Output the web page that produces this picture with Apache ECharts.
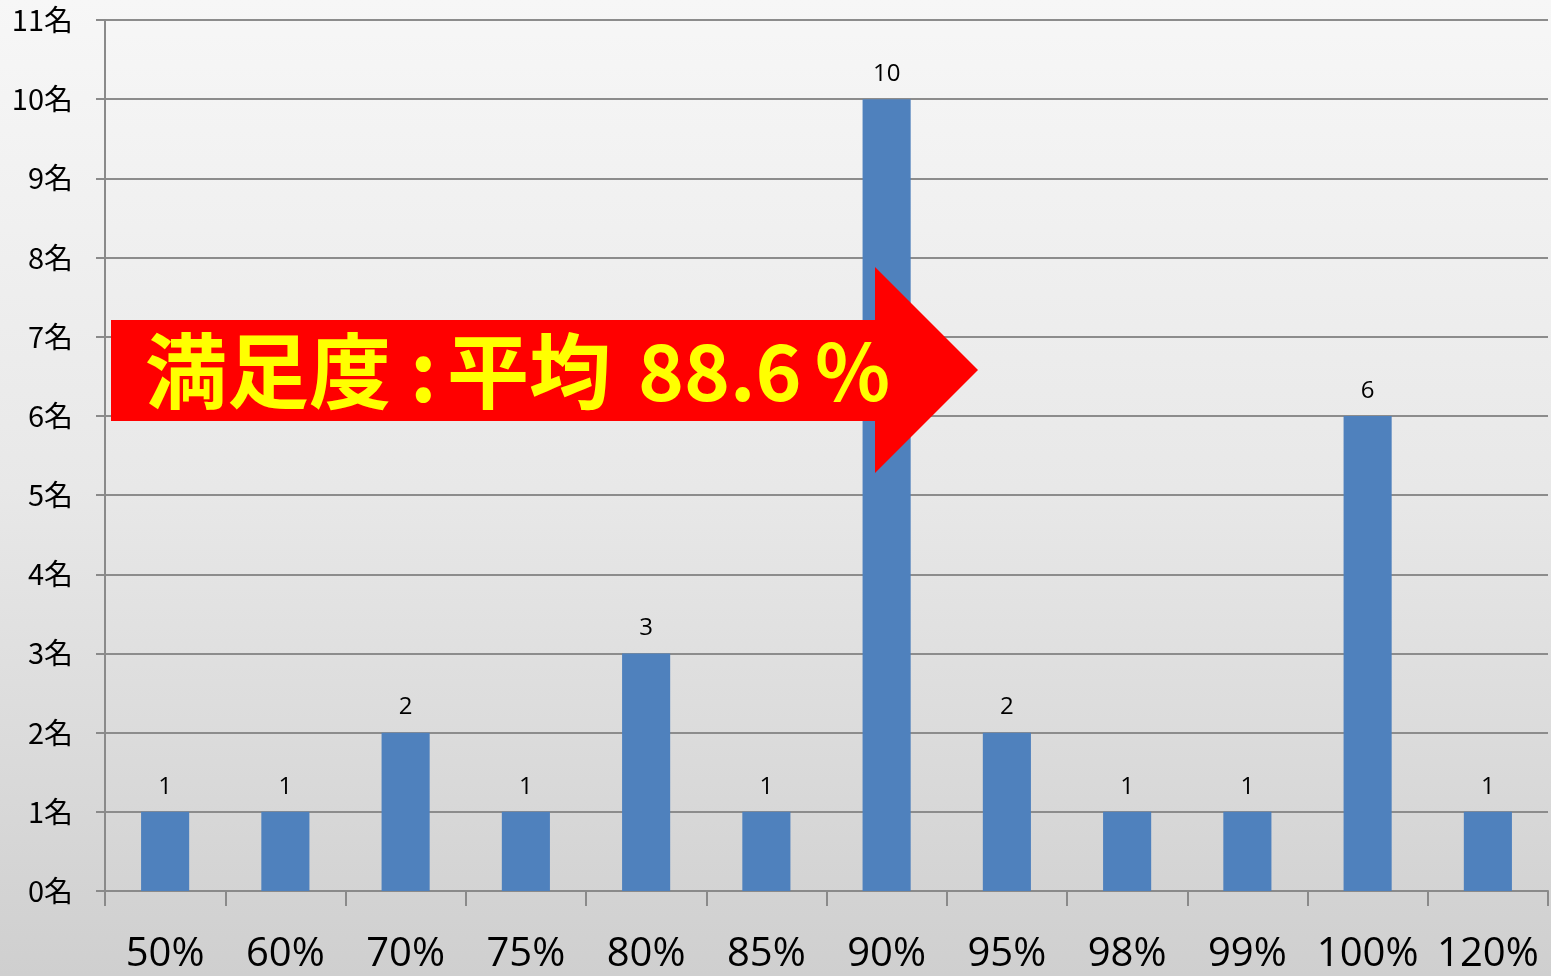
<!DOCTYPE html>
<html><head><meta charset="utf-8">
<script src="https://cdn.jsdelivr.net/npm/echarts@6/dist/echarts.min.js"></script>
<style>html,body{margin:0;padding:0;}#c{width:1551px;height:976px;}</style>
</head><body><div id="c"></div>
<script>
const categories = ['50%','60%','70%','75%','80%','85%','90%','95%','98%','99%','100%','120%'];
const counts = [1,1,2,1,3,1,10,2,1,1,6,1];
const yTicks = {min:0, max:11, interval:1, suffix:'名'};
const bannerParts = ['満足度', ':', '平均', '88.6', '%'];

const chart = echarts.init(document.getElementById('c'));
const bannerX = [145, 410, 447, 638, 815];
const bannerSize = [82, 82, 82, 78, 78];
const bannerGraphics = bannerParts.map((t,i)=>({type:'text',z:101,x:bannerX[i],y:371,
  style:{text:t,fill:'#ffff00',font:'bold '+bannerSize[i]+'px "Noto Sans CJK JP"',textVerticalAlign:'middle'}}));
chart.setOption({
  backgroundColor: new echarts.graphic.LinearGradient(0,0,0,1,[
    {offset:0,color:'#f7f7f7'},{offset:0.5,color:'#e8e8e8'},{offset:1,color:'#cfcfcf'}]),
  animation:false,
  grid:{left:105,right:3,top:20,bottom:85,containLabel:false},
  xAxis:{type:'category',data:categories,
    axisLine:{lineStyle:{color:'#8a8a8a',width:2}},
    axisTick:{show:true,length:15,interval:0,lineStyle:{color:'#8a8a8a',width:2}},
    axisLabel:{interval:0,color:'#000',fontSize:40,margin:44,fontFamily:'Open Sans, Noto Sans, sans-serif'}},
  yAxis:{type:'value',min:yTicks.min,max:yTicks.max,interval:yTicks.interval,
    axisLine:{show:true,lineStyle:{color:'#8a8a8a',width:2}},
    axisTick:{show:true,length:9,lineStyle:{color:'#8a8a8a',width:2}},
    splitLine:{lineStyle:{color:'#8c8c8c',width:2}},
    axisLabel:{color:'#000',fontSize:29,margin:32,fontFamily:'Noto Sans CJK JP',formatter:v=>v+yTicks.suffix}},
  series:[{type:'bar',data:counts,barWidth:'40%',
    itemStyle:{color:'#4f81bd'},
    label:{show:true,position:'top',distance:13,color:'#000',fontSize:24,fontFamily:'Open Sans, Noto Sans, sans-serif'}}],
  graphic:[
    {type:'polygon',z:100,shape:{points:[[111,320],[875,320],[875,267],[978,370],[875,473],[875,421],[111,421]]},
      style:{fill:'#ff0000'}}
  ].concat(bannerGraphics)
});
</script></body></html>
